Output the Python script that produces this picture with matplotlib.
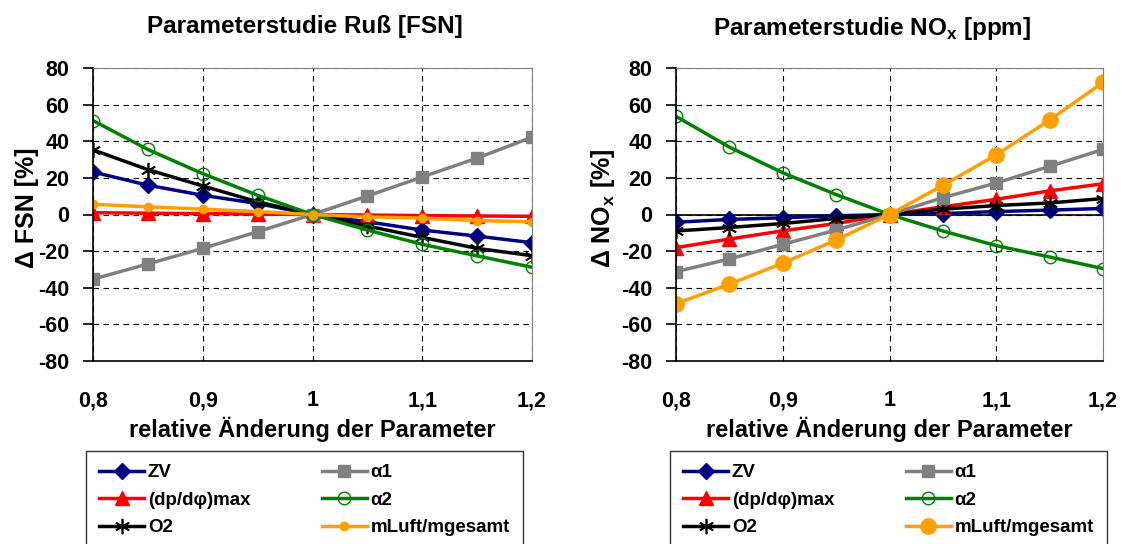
import numpy as np
import matplotlib
matplotlib.use('Agg')
import matplotlib.pyplot as plt
from matplotlib.ticker import FixedLocator, FuncFormatter

plt.rcParams['font.family'] = ['Liberation Sans', 'DejaVu Sans']
plt.rcParams['font.weight'] = 'bold'
plt.rcParams['axes.unicode_minus'] = False
plt.rcParams['mathtext.fontset'] = 'custom'
plt.rcParams['mathtext.bf'] = 'Liberation Sans:bold'
plt.rcParams['mathtext.rm'] = 'Liberation Sans:bold'

# relative change of the parameters
x = [0.8, 0.85, 0.9, 0.95, 1.0, 1.05, 1.1, 1.15, 1.2]

# soot, delta FSN in %
fsn_zv    = [23.2, 16.0, 10.5, 6.0, 0, -4.0, -8.5, -11.8, -15.4]
fsn_dp    = [1.0, 0.7, 0.5, 0.2, 0, -0.3, -0.6, -0.8, -1.0]
fsn_o2    = [35.3, 24.5, 15.6, 6.9, 0, -6.3, -12.5, -18.5, -22.5]
fsn_a1    = [-35.3, -27.0, -18.5, -9.4, 0, 10.1, 20.5, 30.8, 42.2]
fsn_a2    = [51.3, 35.5, 22.3, 10.5, 0, -8.5, -16.3, -22.6, -28.8]
fsn_mluft = [5.6, 4.2, 2.9, 1.6, 0, -1.3, -2.0, -3.3, -4.0]

# NOx, delta in %
nox_zv    = [-4.2, -2.7, -1.8, -0.7, 0, 0.5, 1.6, 2.4, 3.3]
nox_dp    = [-18.1, -13.4, -8.9, -4.9, 0, 4.2, 8.3, 12.9, 16.8]
nox_o2    = [-9.0, -7.1, -4.9, -2.2, 0, 2.9, 4.9, 6.3, 8.7]
nox_a1    = [-31.2, -24.3, -16.3, -8.5, 0, 9.2, 17.2, 26.3, 35.5]
nox_a2    = [53.6, 36.8, 22.8, 10.9, 0, -9.0, -17.0, -23.2, -29.5]
nox_mluft = [-48.7, -38.0, -26.6, -13.9, 0, 15.9, 32.6, 51.6, 72.1]

labels = ['ZV', '(dp/dφ)max', 'O2', 'α1', 'α2', 'mLuft/mgesamt']
x_ticks = [0.8, 0.9, 1.0, 1.1, 1.2]
y_ticks = list(range(-80, 81, 20))

W, H = 1122, 544
fig = plt.figure(figsize=(W / 100, H / 100), dpi=100)
ax1 = fig.add_axes([93 / W, 1 - 361 / H, 439 / W, 293 / H])
ax2 = fig.add_axes([676 / W, 1 - 361 / H, 427 / W, 293 / H])


def draw(ax, data, orange_size):
    zv, dp, o2, a1, a2, ml = data
    lw = 2.5
    ax.plot(x, zv, color='#000080', lw=lw, marker='D', ms=8, label=labels[0])
    ax.plot(x, dp, color='#FF0000', lw=lw, marker='^', ms=10, label=labels[1])
    ax.plot(x, o2, color='black', lw=lw, marker=(6, 2, 0), ms=11, mew=1.2,
            label=labels[2])
    ax.plot(x, a1, color='#808080', lw=lw, marker='s', ms=9, label=labels[3])
    ax.plot(x, a2, color='#008000', lw=lw, marker='o', ms=9, mfc='none',
            mew=1.0, label=labels[4])
    ax.plot(x, ml, color='#FFA000', lw=lw, marker='o', ms=orange_size,
            label=labels[5])

    ax.set_xlim(0.8, 1.2)
    ax.set_ylim(-80, 80)
    ax.xaxis.set_major_locator(FixedLocator(x_ticks))
    ax.yaxis.set_major_locator(FixedLocator(y_ticks))
    ax.xaxis.set_major_formatter(FuncFormatter(
        lambda v, p: ('%g' % round(v, 2)).replace('.', ',')))
    ax.grid(True, color='black', ls=(0, (5, 4)), lw=0.8)
    ax.set_axisbelow(True)
    for s in ['top', 'right']:
        ax.spines[s].set_color('#808080')
        ax.spines[s].set_linewidth(0.8)
    ax.spines['left'].set_linewidth(1.2)
    ax.spines['bottom'].set_linewidth(1.2)
    ax.tick_params(axis='y', direction='out', length=7, width=1.2, pad=10,
                   labelsize=15.5)
    ax.tick_params(axis='x', length=0, pad=21, labelsize=15.5)
    for lab in ax.get_xticklabels() + ax.get_yticklabels():
        lab.set_fontweight('bold')
    ax.set_xlabel('relative Änderung der Parameter', fontsize=17,
                  fontweight='bold', labelpad=4)


draw(ax1, [fsn_zv, fsn_dp, fsn_o2, fsn_a1, fsn_a2, fsn_mluft], 6)
draw(ax2, [nox_zv, nox_dp, nox_o2, nox_a1, nox_a2, nox_mluft], 11)
ax2.axhline(0, color='black', lw=1.2, zorder=1.5)

fig.text(305 / W, 1 - 27 / H, 'Parameterstudie Ruß [FSN]', ha='center',
         va='center', fontsize=17.5, fontweight='bold')
fig.text(872 / W, 1 - 29 / H, r'Parameterstudie NO$_\mathbf{x}$ [ppm]',
         ha='center', va='center', fontsize=17.5, fontweight='bold')
fig.text(27 / W, 1 - 208 / H, 'Δ FSN [%]', rotation=90, ha='center',
         va='center', fontsize=18, fontweight='bold')
fig.text(603 / W, 1 - 208 / H, r'Δ NO$_\mathbf{x}$ [%]', rotation=90,
         ha='center', va='center', fontsize=18, fontweight='bold')

for ax, x0 in [(ax1, 86), (ax2, 670)]:
    h, l = ax.get_legend_handles_labels()
    leg = fig.legend(h, l, loc='upper left', ncol=2,
                     bbox_to_anchor=(x0 / W, 1 - 451 / H),
                     prop={'size': 13.5, 'weight': 'bold'},
                     frameon=True, fancybox=False, edgecolor='black',
                     handlelength=2.4, handletextpad=0.2, columnspacing=3.8,
                     labelspacing=0.55, borderpad=0.7, borderaxespad=0)
    leg.get_frame().set_linewidth(1.0)

fig.savefig('out.png', dpi=100)
